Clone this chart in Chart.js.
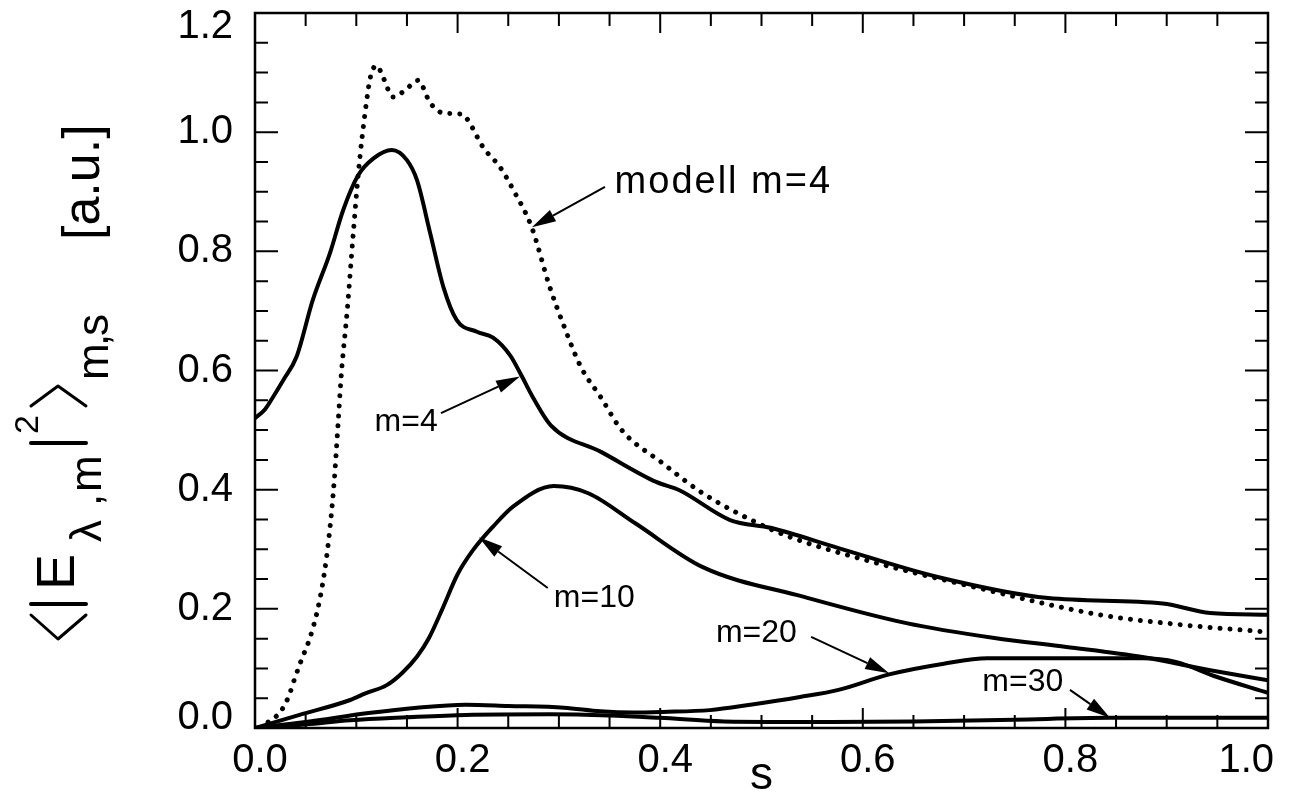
<!DOCTYPE html>
<html>
<head>
<meta charset="utf-8">
<script src="https://cdn.jsdelivr.net/npm/chart.js@4.4.0/dist/chart.umd.min.js"></script>
<style>
  html, body { margin: 0; padding: 0; background: #fff; }
  canvas { display: block; }
</style>
</head>
<body>
<canvas id="spectrumChart" width="1290" height="795"></canvas>
<script>
// Radial profiles of <|E|^2> for the poloidal modes, plus the m=4 model curve
const sModel = [0.005, 0.013, 0.025, 0.033, 0.039, 0.046, 0.054, 0.062, 0.068, 0.073, 0.078, 0.082, 0.085, 0.091, 0.097, 0.102, 0.109, 0.114, 0.12, 0.127, 0.136, 0.148, 0.161, 0.173, 0.186, 0.205, 0.212, 0.225, 0.242, 0.255, 0.273, 0.291, 0.304, 0.322, 0.341, 0.362, 0.402, 0.442, 0.496, 0.529, 0.609, 0.709, 0.834, 0.916, 1.0];
const eModel = [0, 0.01, 0.027, 0.052, 0.082, 0.115, 0.15, 0.2, 0.255, 0.32, 0.41, 0.51, 0.589, 0.7, 0.83, 0.931, 1.037, 1.093, 1.112, 1.09, 1.059, 1.07, 1.087, 1.049, 1.032, 1.03, 1.015, 0.975, 0.941, 0.903, 0.841, 0.74, 0.679, 0.605, 0.556, 0.5, 0.445, 0.394, 0.344, 0.32, 0.279, 0.237, 0.19, 0.173, 0.161];

const sM4 = [0, 0.01, 0.018, 0.028, 0.041, 0.057, 0.074, 0.087, 0.102, 0.117, 0.135, 0.15, 0.16, 0.173, 0.186, 0.199, 0.219, 0.235, 0.252, 0.262, 0.275, 0.292, 0.342, 0.396, 0.419, 0.469, 0.509, 0.576, 0.675, 0.783, 0.896, 0.943, 1.0];
const eM4 = [0.52, 0.535, 0.556, 0.584, 0.623, 0.718, 0.797, 0.869, 0.928, 0.956, 0.97, 0.953, 0.919, 0.83, 0.74, 0.685, 0.665, 0.655, 0.625, 0.595, 0.553, 0.508, 0.463, 0.413, 0.399, 0.349, 0.336, 0.302, 0.253, 0.218, 0.209, 0.193, 0.19];

const sM10 = [0, 0.044, 0.094, 0.109, 0.13, 0.145, 0.16, 0.172, 0.185, 0.2, 0.215, 0.235, 0.255, 0.295, 0.329, 0.375, 0.442, 0.542, 0.643, 0.73, 0.801, 0.876, 0.943, 1.0];
const eM10 = [0, 0.022, 0.047, 0.058, 0.072, 0.092, 0.12, 0.152, 0.2, 0.258, 0.298, 0.338, 0.372, 0.406, 0.394, 0.344, 0.27, 0.22, 0.176, 0.151, 0.136, 0.119, 0.097, 0.08];

const sM20 = [0, 0.05, 0.112, 0.16, 0.208, 0.25, 0.305, 0.341, 0.374, 0.403, 0.449, 0.489, 0.538, 0.576, 0.626, 0.68, 0.723, 0.8, 0.876, 0.909, 0.949, 1.0];
const eM20 = [0, 0.01, 0.025, 0.034, 0.039, 0.037, 0.034, 0.028, 0.026, 0.027, 0.03, 0.039, 0.052, 0.064, 0.09, 0.108, 0.117, 0.117, 0.117, 0.111, 0.086, 0.059];

const sM30 = [0, 0.05, 0.094, 0.15, 0.208, 0.291, 0.35, 0.4, 0.463, 0.567, 0.65, 0.75, 0.843, 0.9, 1.0];
const eM30 = [0, 0.006, 0.013, 0.018, 0.022, 0.023, 0.021, 0.017, 0.011, 0.01, 0.011, 0.014, 0.017, 0.017, 0.017];

// axis ticks: minor every 0.05, labelled every 0.2
const minorStep = 0.05;
const majorStep = 0.2;

// curve labels with arrows, in data coordinates (s, value)
const curveNotes = [
  { text: 'modell m=4', size: 38, spacing: 2, at: [0.355, 0.898], from: [0.3455, 0.908], to: [0.2734, 0.8406] },
  { text: 'm=4', size: 32, spacing: 0, at: [0.118, 0.498], from: [0.1836, 0.5285], to: [0.2616, 0.59] },
  { text: 'm=10', size: 32, spacing: 0, at: [0.295, 0.203], from: [0.289, 0.235], to: [0.221, 0.32] },
  { text: 'm=20', size: 32, spacing: 0, at: [0.455, 0.144], from: [0.549, 0.153], to: [0.626, 0.092] },
  { text: 'm=30', size: 32, spacing: 0, at: [0.718, 0.062], from: [0.8045, 0.064], to: [0.844, 0.017] }
];

const FONT = '"Liberation Sans", Arial, Helvetica, sans-serif';

const toPoints = (xs, ys) => xs.map((s, i) => ({ x: s, y: ys[i] }));

function solid(xs, ys) {
  return {
    data: toPoints(xs, ys),
    borderColor: '#000',
    borderWidth: 4,
    pointRadius: 0,
    cubicInterpolationMode: 'monotone',
    borderJoinStyle: 'round',
    borderCapStyle: 'round'
  };
}

const isMajor = (v) => Math.abs(v / majorStep - Math.round(v / majorStep)) < 1e-6;

// frame with inward ticks on all four sides, and the tick labels
const frameTicks = {
  id: 'frameTicks',
  afterDatasetsDraw(chart) {
    const { ctx, chartArea: a, scales: { x, y } } = chart;
    ctx.save();
    ctx.strokeStyle = '#000';
    ctx.lineWidth = 2.5;
    ctx.strokeRect(a.left, a.top, a.right - a.left, a.bottom - a.top);
    ctx.lineWidth = 2;
    ctx.beginPath();
    y.ticks.forEach(t => {
      const py = y.getPixelForValue(t.value);
      const len = isMajor(t.value) ? 23 : 13;
      ctx.moveTo(a.left, py); ctx.lineTo(a.left + len, py);
      ctx.moveTo(a.right, py); ctx.lineTo(a.right - len, py);
    });
    x.ticks.forEach(t => {
      const px = x.getPixelForValue(t.value);
      const len = isMajor(t.value) ? 20 : 13;
      ctx.moveTo(px, a.bottom); ctx.lineTo(px, a.bottom - len);
      ctx.moveTo(px, a.top); ctx.lineTo(px, a.top + len);
    });
    ctx.stroke();

    ctx.fillStyle = '#000';
    ctx.font = '40px ' + FONT;
    ctx.textBaseline = 'middle';
    ctx.textAlign = 'right';
    y.ticks.filter(t => isMajor(t.value)).forEach(t => {
      const py = Math.min(Math.max(y.getPixelForValue(t.value), a.top + 14), a.bottom - 10);
      ctx.fillText(t.value.toFixed(1), a.left - 22, py);
    });
    ctx.textAlign = 'center';
    x.ticks.filter(t => isMajor(t.value)).forEach(t => {
      const label = t.value.toFixed(1);
      const half = ctx.measureText(label).width / 2;
      const px = Math.min(x.getPixelForValue(t.value) + 5, a.right + 6 - half);
      ctx.fillText(label, px, a.bottom + 33);
    });
    ctx.restore();
  }
};

// arrows and curve names
const notes = {
  id: 'notes',
  afterDatasetsDraw(chart) {
    const { ctx, scales: { x, y } } = chart;
    ctx.save();
    ctx.fillStyle = '#000';
    ctx.strokeStyle = '#000';
    curveNotes.forEach(n => {
      ctx.font = n.size + 'px ' + FONT;
      ctx.letterSpacing = n.spacing + 'px';
      ctx.textBaseline = 'alphabetic';
      ctx.fillText(n.text, x.getPixelForValue(n.at[0]), y.getPixelForValue(n.at[1]));
      const x0 = x.getPixelForValue(n.from[0]), y0 = y.getPixelForValue(n.from[1]);
      const x1 = x.getPixelForValue(n.to[0]), y1 = y.getPixelForValue(n.to[1]);
      const ang = Math.atan2(y1 - y0, x1 - x0);
      const head = 24, half = 6.5;
      const bx = x1 - head * Math.cos(ang), by = y1 - head * Math.sin(ang);
      ctx.lineWidth = 2;
      ctx.beginPath();
      ctx.moveTo(x0, y0);
      ctx.lineTo(bx, by);
      ctx.stroke();
      ctx.beginPath();
      ctx.moveTo(x1, y1);
      ctx.lineTo(bx + half * Math.sin(ang), by - half * Math.cos(ang));
      ctx.lineTo(bx - half * Math.sin(ang), by + half * Math.cos(ang));
      ctx.closePath();
      ctx.fill();
    });
    ctx.restore();
  }
};

// rotated y title: <|E_{lambda,m}|^2>_{m,s}   [a.u.]
function upText(ctx, text, size, baseX, startY) {
  ctx.save();
  ctx.translate(baseX, startY);
  ctx.rotate(-Math.PI / 2);
  ctx.font = size + 'px ' + FONT;
  ctx.textBaseline = 'alphabetic';
  ctx.textAlign = 'left';
  ctx.fillText(text, 0, 0);
  ctx.restore();
}

const yTitle = {
  id: 'yTitle',
  afterDraw(chart) {
    const ctx = chart.ctx;
    ctx.save();
    ctx.fillStyle = '#000';
    ctx.strokeStyle = '#000';
    ctx.lineCap = 'round';
    ctx.lineJoin = 'round';
    // angle brackets
    ctx.lineWidth = 3;
    ctx.beginPath();
    ctx.moveTo(31, 615); ctx.lineTo(58, 639); ctx.lineTo(86, 615);
    ctx.moveTo(31, 406); ctx.lineTo(58, 386); ctx.lineTo(86, 406);
    ctx.stroke();
    // bars
    ctx.lineWidth = 4;
    ctx.beginPath();
    ctx.moveTo(31, 604); ctx.lineTo(86, 604);
    ctx.moveTo(31, 443); ctx.lineTo(86, 443);
    ctx.stroke();
    upText(ctx, 'E', 54, 74, 590);
    upText(ctx, 'λ', 44, 101, 542);
    upText(ctx, ',', 44, 101, 506);
    upText(ctx, 'm', 44, 101, 492);
    upText(ctx, '2', 34, 38, 434);
    upText(ctx, 'm', 44, 108, 380);
    upText(ctx, ',', 44, 108, 346);
    upText(ctx, 's', 44, 108, 336);
    upText(ctx, '[a.u.]', 52, 99, 240);
    ctx.restore();
  }
};

const ctx = document.getElementById('spectrumChart').getContext('2d');
new Chart(ctx, {
  type: 'line',
  data: {
    datasets: [
      Object.assign(solid(sModel, eModel), {
        borderWidth: 5,
        borderDash: [0.01, 10],
        borderCapStyle: 'round'
      }),
      solid(sM4, eM4),
      solid(sM10, eM10),
      solid(sM20, eM20),
      solid(sM30, eM30)
    ]
  },
  options: {
    responsive: false,
    animation: false,
    events: [],
    layout: { padding: { left: 0, top: 13, right: 22, bottom: 0 } },
    plugins: { legend: { display: false }, tooltip: { enabled: false } },
    scales: {
      x: {
        type: 'linear',
        min: 0,
        max: 1,
        grid: { display: false, drawTicks: false },
        border: { display: false },
        ticks: { stepSize: minorStep, autoSkip: false, display: false },
        title: {
          display: true,
          text: 's',
          color: '#000',
          font: { family: FONT, size: 46, lineHeight: 0.8 },
          padding: { top: 0, bottom: 0 }
        },
        afterFit: (scale) => {
          scale.height = 67;
          scale.paddingLeft = 0;
          scale.paddingRight = 0;
        }
      },
      y: {
        type: 'linear',
        min: 0,
        max: 1.2,
        grid: { display: false, drawTicks: false },
        border: { display: false },
        ticks: { stepSize: minorStep, autoSkip: false, display: false },
        afterFit: (scale) => {
          scale.width = 255;
          scale.paddingTop = 0;
          scale.paddingBottom = 0;
        }
      }
    }
  },
  plugins: [frameTicks, notes, yTitle]
});
</script>
</body>
</html>
